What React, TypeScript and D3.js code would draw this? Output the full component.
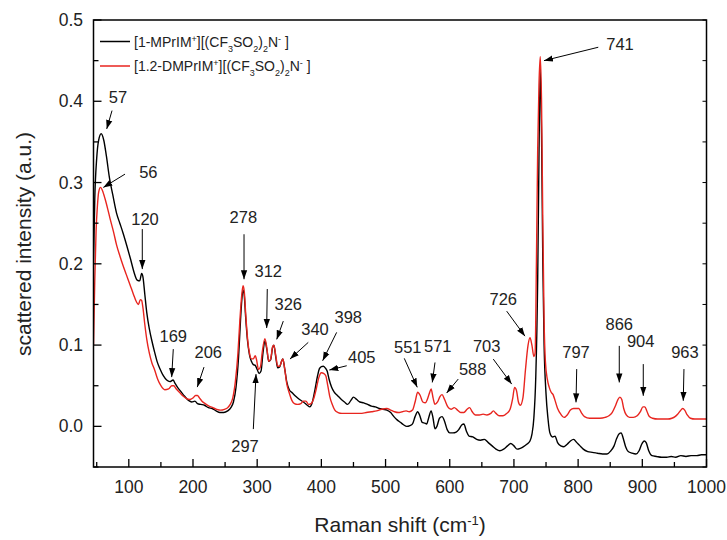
import React from 'react';
import * as d3 from 'd3';

// ---------- data ----------
const blackX = [45,47,50,53,57,61,65,70,75,81,86,91,97,103,108,113,117,120,122,125,128,132,136,140,144,149,154,159,164,169,172,176,181,187,193,198,203,207,212,218,224,230,236,242,248,254,259,263,267,271,274,276,278,280,282,285,288,291,294,297,300,303,306,309,312,315,318,321,324,326,329,332,335,338,340,343,346,350,355,360,366,372,378,382,386,390,394,397,400,403,406,409,412,416,420,425,430,436,441,446,450,455,460,466,472,478,484,490,496,502,508,513,518,523,528,533,538,542,546,550,553,557,561,564,567,571,574,577,580,584,588,592,596,600,605,610,614,619,622,626,630,636,642,648,654,660,666,672,678,684,690,695,700,705,710,715,720,725,728,731,734,737,739,741,743,745,747,750,753,756,760,764,768,773,778,783,788,793,798,803,808,815,822,830,838,845,851,856,860,864,867,870,874,878,884,890,895,899,903,906,910,915,922,930,938,945,952,960,968,976,985,992,1000];
const blackY = [0.20,0.28,0.33,0.352,0.36,0.352,0.333,0.305,0.285,0.262,0.25,0.238,0.222,0.205,0.19,0.18,0.179,0.188,0.184,0.162,0.14,0.12,0.105,0.092,0.08,0.07,0.062,0.057,0.055,0.057,0.053,0.048,0.043,0.037,0.032,0.030,0.031,0.028,0.027,0.026,0.023,0.022,0.019,0.017,0.017,0.019,0.023,0.03,0.048,0.085,0.13,0.155,0.168,0.16,0.135,0.105,0.088,0.08,0.076,0.075,0.07,0.065,0.068,0.09,0.105,0.095,0.08,0.082,0.097,0.1,0.085,0.072,0.073,0.08,0.083,0.07,0.055,0.045,0.041,0.037,0.033,0.03,0.026,0.024,0.03,0.045,0.062,0.071,0.0735,0.074,0.072,0.068,0.058,0.048,0.042,0.038,0.034,0.03,0.027,0.032,0.036,0.033,0.03,0.029,0.027,0.025,0.024,0.022,0.021,0.02,0.017,0.012,0.008,0.005,0.002,0.0,0.001,0.003,0.012,0.018,0.014,0.005,0.004,0.003,0.01,0.019,0.01,-0.003,0.0,0.01,0.012,0.006,-0.004,-0.008,-0.008,-0.007,-0.004,0.002,0.003,-0.006,-0.012,-0.013,-0.016,-0.017,-0.016,-0.02,-0.024,-0.028,-0.03,-0.028,-0.024,-0.021,-0.024,-0.028,-0.027,-0.025,-0.022,-0.018,-0.01,0.01,0.06,0.18,0.33,0.44,0.36,0.2,0.1,0.04,0.01,-0.008,-0.013,-0.012,-0.02,-0.024,-0.025,-0.022,-0.018,-0.016,-0.02,-0.024,-0.028,-0.031,-0.032,-0.033,-0.034,-0.034,-0.03,-0.024,-0.015,-0.009,-0.008,-0.014,-0.025,-0.031,-0.033,-0.034,-0.03,-0.022,-0.018,-0.02,-0.03,-0.036,-0.037,-0.038,-0.038,-0.037,-0.038,-0.036,-0.037,-0.036,-0.036,-0.035,-0.035];

const redX = [45,47,49,51,53,56,59,63,67,71,76,81,86,91,96,102,107,112,115,118,120,122,125,128,132,136,140,145,150,156,162,167,170,174,180,185,190,195,200,204,207,210,214,219,225,231,237,243,249,254,258,262,266,270,273,276,278,280,282,285,288,291,294,297,299,302,305,308,312,315,318,321,324,326,329,332,335,338,340,343,346,350,354,358,363,368,372,376,380,384,388,392,396,400,404,407,410,413,417,421,426,432,440,450,460,470,478,486,494,502,508,514,520,526,532,537,542,546,550,554,558,562,565,568,571,574,577,581,585,588,592,597,602,607,612,617,622,627,631,635,640,646,652,658,664,668,672,677,683,689,694,698,701,704,707,710,714,718,722,725,728,731,733,735,737,739,741,743,745,747,749,752,755,758,761,764,768,773,778,783,788,793,797,801,805,810,818,826,834,842,848,853,858,862,865,868,871,875,880,886,892,897,901,904,907,911,916,924,932,940,946,951,955,959,963,966,970,975,982,990,1000];
const redY = [0.10,0.18,0.24,0.27,0.288,0.294,0.29,0.28,0.268,0.255,0.24,0.223,0.21,0.198,0.187,0.174,0.163,0.153,0.15,0.156,0.155,0.146,0.125,0.107,0.09,0.078,0.07,0.058,0.05,0.045,0.046,0.05,0.05,0.046,0.041,0.037,0.034,0.033,0.035,0.038,0.038,0.035,0.031,0.028,0.025,0.023,0.021,0.02,0.021,0.023,0.027,0.035,0.055,0.09,0.13,0.162,0.173,0.165,0.14,0.108,0.09,0.083,0.083,0.087,0.082,0.07,0.073,0.092,0.108,0.097,0.08,0.083,0.098,0.1,0.087,0.074,0.074,0.08,0.083,0.07,0.053,0.041,0.032,0.028,0.027,0.028,0.031,0.031,0.027,0.028,0.034,0.046,0.06,0.066,0.065,0.062,0.05,0.037,0.027,0.02,0.017,0.016,0.016,0.016,0.016,0.017,0.018,0.019,0.021,0.022,0.02,0.018,0.017,0.018,0.019,0.018,0.02,0.03,0.042,0.038,0.03,0.029,0.033,0.04,0.046,0.035,0.027,0.03,0.037,0.039,0.033,0.024,0.021,0.023,0.02,0.017,0.017,0.021,0.023,0.018,0.014,0.014,0.015,0.014,0.016,0.019,0.016,0.013,0.013,0.016,0.021,0.034,0.048,0.044,0.03,0.026,0.035,0.07,0.1,0.109,0.1,0.086,0.09,0.2,0.34,0.42,0.455,0.4,0.25,0.13,0.08,0.058,0.048,0.042,0.039,0.032,0.022,0.015,0.011,0.014,0.02,0.022,0.022,0.022,0.017,0.012,0.01,0.01,0.01,0.011,0.013,0.017,0.025,0.033,0.036,0.033,0.022,0.014,0.011,0.011,0.013,0.018,0.024,0.024,0.019,0.012,0.01,0.009,0.009,0.009,0.01,0.012,0.015,0.019,0.022,0.02,0.014,0.01,0.009,0.009,0.009];

const seriesNames = ['1-MPrIM', '1.2-DMPrIM'];
const xMajorTicks = [100, 200, 300, 400, 500, 600, 700, 800, 900, 1000];
const xMinorTicks = [50, 150, 250, 350, 450, 550, 650, 750, 850, 950];
const yMajorTicks = [0.0, 0.1, 0.2, 0.3, 0.4, 0.5];
const yMinorTicks = [-0.05, 0.05, 0.15, 0.25, 0.35, 0.45];

// peak annotations: label, arrow head position in data units
const peakLabels = ['57','56','120','169','206','278','312','326','340','398','405','297','551','571','588','703','726','741','797','866','904','963'];
const peakHeadX = [65.6,60.3,121,166.8,206.7,279.5,314.8,330.4,351.1,402,412.4,298.2,549.4,572.8,595.2,696.5,717.2,746.8,796.7,864.1,901.5,963.8];
const peakHeadY = [0.366,0.294,0.1935,0.0606,0.0483,0.181,0.121,0.107,0.0828,0.0807,0.0693,0.0643,0.048,0.054,0.041,0.052,0.111,0.45,0.0295,0.054,0.0376,0.0315];

// layout offsets (px): [tailDx, tailDy, textDx, textDy]
const annOffsets: number[][] = [
  [5.3,-18.3,11.3,-32],[21.7,-13.3,45,-15],[0,-40,2.7,-50],[1.6,-28,1.6,-41.3],[6.7,-20,11,-34.7],
  [0,-45,-0.7,-61.7],[0.6,-39,1.6,-56.3],[6.6,-18.3,11.6,-35],[18.3,-16.7,25,-30],[14,-28.4,25.6,-43.4],
  [17.4,-4.3,32.4,-12.7],[-2.7,55,-11,71.7],[-13,-29,-9.5,-40],[2.7,-20,5.5,-36],[11.6,-14,26,-24],
  [-18.4,-25,-25,-38.3],[-18.3,-25,-21.7,-36.7],[54.3,-13.4,76,-16.7],[0.7,-33.3,0,-50],[0,-36.6,0,-58.3],
  [0,-31.7,-2.6,-55],[0.7,-31.7,1.7,-48.4]
];

const FONT = 'Arial, "Liberation Sans", sans-serif';

export default function App() {
  const W = 727, H = 540;
  const x = d3.scaleLinear().domain([45, 1000]).range([93.5, 706.5]);
  const y = d3.scaleLinear().domain([-0.05, 0.5]).range([467, 20]);
  const line = d3.line<number>().curve(d3.curveMonotoneX);
  const blackPath = line(blackX.map((v, i) => [x(v), y(blackY[i])] as any) as any);
  const redPath = line(redX.map((v, i) => [x(v), y(redY[i])] as any) as any);
  const [x0, x1] = x.range();
  const [yb, yt] = y.range();

  const sub = (t: string) => <tspan baselineShift="sub" fontSize={9}>{t}</tspan>;
  const sup = (t: string) => <tspan baselineShift="super" fontSize={9}>{t}</tspan>;

  return (
    <svg width={W} height={H} style={{ position: 'absolute', left: 0, top: 0, background: '#fff' }} fontFamily={FONT}>
      <defs>
        <marker id="ah" viewBox="0 0 10 10" refX="10" refY="5" markerWidth="9" markerHeight="9" markerUnits="userSpaceOnUse" orient="auto">
          <path d="M0,1.5 L10,5 L0,8.5 Z" fill="#000" />
        </marker>
        <clipPath id="plot"><rect x={x0} y={yt} width={x1 - x0} height={yb - yt} /></clipPath>
      </defs>
      <rect x={0} y={0} width={W} height={H} fill="#fff" />
      <g clipPath="url(#plot)">
        <path d={blackPath || ''} fill="none" stroke="#000" strokeWidth={1.4} strokeLinejoin="round" />
        <path d={redPath || ''} fill="none" stroke="#e8251f" strokeWidth={1.4} strokeLinejoin="round" />
      </g>
      {/* frame */}
      <rect x={x0} y={yt} width={x1 - x0} height={yb - yt} fill="none" stroke="#000" strokeWidth={1.5} />
      {/* bottom ticks */}
      {xMajorTicks.map(t => (
        <g key={'xm' + t}>
          <line x1={x(t)} x2={x(t)} y1={yb} y2={yb - 8} stroke="#000" strokeWidth={1.3} />
          <text x={x(t)} y={492.5} textAnchor="middle" fontSize={17.5} fill="#222">{t}</text>
        </g>
      ))}
      {xMinorTicks.map(t => (
        <line key={'xn' + t} x1={x(t)} x2={x(t)} y1={yb} y2={yb - 5} stroke="#000" strokeWidth={1.3} />
      ))}
      {/* left ticks */}
      {yMajorTicks.map(t => (
        <g key={'ym' + t}>
          <line x1={x0} x2={x0 + 8} y1={y(t)} y2={y(t)} stroke="#000" strokeWidth={1.3} />
          <text x={83} y={y(t)} dy="0.35em" textAnchor="end" fontSize={17.5} fill="#222">{t.toFixed(1)}</text>
        </g>
      ))}
      {yMinorTicks.map(t => (
        <line key={'yn' + t} x1={x0} x2={x0 + 5} y1={y(t)} y2={y(t)} stroke="#000" strokeWidth={1.3} />
      ))}
      {/* right ticks */}
      {[...yMajorTicks, ...yMinorTicks].map(t => (
        <line key={'yr' + t} x1={x1} x2={x1 - 4} y1={y(t)} y2={y(t)} stroke="#000" strokeWidth={1} />
      ))}
      {/* axis titles */}
      <text x={400} y={532} textAnchor="middle" fontSize={21} fill="#222">
        Raman shift (cm<tspan baselineShift="super" fontSize={13}>-1</tspan>)
      </text>
      <text transform="translate(31,244) rotate(-90)" textAnchor="middle" fontSize={21} fill="#222">
        scattered intensity (a.u.)
      </text>
      {/* legend */}
      <line x1={100} x2={130} y1={41.5} y2={41.5} stroke="#000" strokeWidth={1.5} />
      <text x={134} y={46.5} fontSize={14} fill="#222">
        [{seriesNames[0]}{sup('+')}][(CF{sub('3')}SO{sub('2')}){sub('2')}N{sup('-')} ]
      </text>
      <line x1={100} x2={130} y1={66} y2={66} stroke="#e8251f" strokeWidth={1.5} />
      <text x={134} y={71} fontSize={14} fill="#222">
        [{seriesNames[1]}{sup('+')}][(CF{sub('3')}SO{sub('2')}){sub('2')}N{sup('-')} ]
      </text>
      {/* annotations */}
      {peakLabels.map((lab, i) => {
        const hx = x(peakHeadX[i]);
        const hy = y(peakHeadY[i]);
        const [tdx, tdy, sx, sy] = annOffsets[i];
        return (
          <g key={'a' + i}>
            <line x1={hx + tdx} y1={hy + tdy} x2={hx} y2={hy} stroke="#000" strokeWidth={1} markerEnd="url(#ah)" />
            <text x={hx + sx} y={hy + sy} dy="0.35em" textAnchor="middle" fontSize={16.5} fill="#222">{lab}</text>
          </g>
        );
      })}
    </svg>
  );
}
